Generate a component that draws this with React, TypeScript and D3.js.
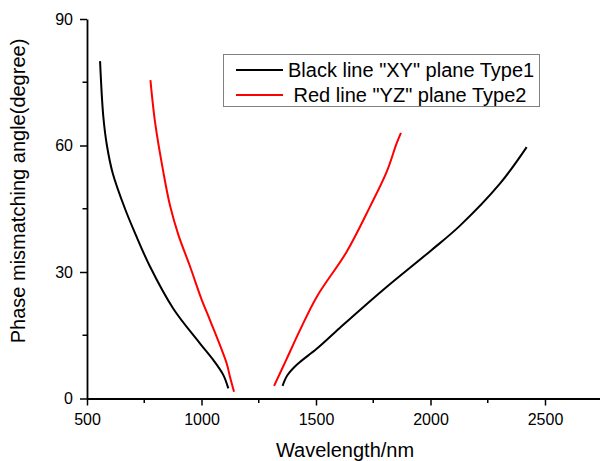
import React, { useEffect, useRef } from "react";
import * as d3 from "d3";

const width = 600;
const height = 461;

// wavelength (nm) and phase mismatching angle (degree)
const xyLeftWave = [557, 571, 587, 612, 666, 713, 775, 877, 993, 1052, 1095, 1117];
const xyLeftAngle = [80, 67, 60, 53.5, 45, 38.8, 31.3, 21.3, 13.1, 9.1, 5.6, 2.4];
const xyRightWave = [1354, 1375, 1416, 1503, 1605, 1794, 2000, 2129, 2304, 2420];
const xyRightAngle = [3, 5.5, 8, 11.8, 16.8, 25.8, 35, 41, 51, 59.6];

const yzLeftWave = [777, 797, 833, 862, 899, 950, 1001, 1037, 1110, 1124, 1142];
const yzLeftAngle = [75.5, 65.6, 53.8, 45.9, 38.8, 31.3, 23.4, 18.6, 8.3, 5.2, 1.6];
const yzRightWave = [1317, 1372, 1430, 1503, 1634, 1736, 1809, 1852, 1871];
const yzRightAngle = [3, 9.4, 16.2, 24.1, 34.8, 45.5, 53.8, 60.5, 63];

const xTicks = [500, 1000, 1500, 2000, 2500];
const xMinor = [750, 1250, 1750, 2250];
const yTicks = [0, 30, 60, 90];
const yMinor = [15, 45, 75];

const legendLabels = ['Black line "XY" plane Type1', ' Red line "YZ" plane Type2'];
const legendColors = ["#000000", "#ff0000"];

const font = "Arial, 'Liberation Sans', sans-serif";

const x = d3.scaleLinear().domain([500, 2750]).range([87, 602.25]);
const y = d3.scaleLinear().domain([0, 90]).range([398.5, 19]);

const toPoints = (w: number[], a: number[]) => w.map((v, i) => [v, a[i]] as [number, number]);

const line = d3
  .line<[number, number]>()
  .x(d => x(d[0]))
  .y(d => y(d[1]))
  .curve(d3.curveCatmullRom.alpha(0.5));

const series = [
  { pts: toPoints(xyLeftWave, xyLeftAngle), color: legendColors[0] },
  { pts: toPoints(xyRightWave, xyRightAngle), color: legendColors[0] },
  { pts: toPoints(yzLeftWave, yzLeftAngle), color: legendColors[1] },
  { pts: toPoints(yzRightWave, yzRightAngle), color: legendColors[1] }
];

export default function App() {
  const xAxisRef = useRef<SVGGElement>(null);
  const yAxisRef = useRef<SVGGElement>(null);

  useEffect(() => {
    const xg = d3.select(xAxisRef.current);
    xg.selectAll("*").remove();
    xg.call(
      d3.axisBottom(x).tickValues(xTicks).tickSize(7).tickSizeOuter(0).tickPadding(8).tickFormat(d3.format("d"))
    );
    xg.selectAll(".minor")
      .data(xMinor)
      .join("line")
      .attr("class", "minor")
      .attr("x1", d => x(d))
      .attr("x2", d => x(d))
      .attr("y1", 0)
      .attr("y2", 4.5)
      .attr("stroke", "#000")
      .attr("stroke-width", 1.5);

    const yg = d3.select(yAxisRef.current);
    yg.selectAll("*").remove();
    yg.call(d3.axisLeft(y).tickValues(yTicks).tickSize(7).tickSizeOuter(0).tickPadding(7));
    yg.selectAll(".minor")
      .data(yMinor)
      .join("line")
      .attr("class", "minor")
      .attr("y1", d => y(d))
      .attr("y2", d => y(d))
      .attr("x1", 0)
      .attr("x2", -4.5)
      .attr("stroke", "#000")
      .attr("stroke-width", 1.5);

    [xg, yg].forEach(g => {
      g.select(".domain").attr("stroke-width", 1.8);
      g.selectAll(".tick line").attr("stroke-width", 1.5);
      g.selectAll(".tick text").attr("font-size", 16).attr("font-family", font).attr("fill", "#000");
    });
  }, []);

  return (
    <svg width={width} height={height} style={{ position: "absolute", left: 0, top: 0, background: "#fff" }}>
      {series.map((s, i) => (
        <path key={i} d={line(s.pts) || ""} fill="none" stroke={s.color} strokeWidth={2} />
      ))}

      <g ref={xAxisRef} transform={`translate(0, ${y(0)})`} />
      <g ref={yAxisRef} transform={`translate(${x(500)}, 0)`} />

      <rect x={223.5} y={54.5} width={316} height={52} fill="#fff" stroke="#808080" strokeWidth={1} />
      {legendLabels.map((label, i) => (
        <g key={label}>
          <line x1={236} x2={283} y1={70 + i * 25} y2={70 + i * 25} stroke={legendColors[i]} strokeWidth={2} />
          <text x={288} y={77 + i * 25} fontSize={20} fontFamily={font} fill="#000" style={{ whiteSpace: "pre" }}>
            {label}
          </text>
        </g>
      ))}

      <text x={345} y={457} textAnchor="middle" fontSize={20} fontFamily={font} fill="#000">
        Wavelength/nm
      </text>
      <text
        transform={`translate(25, 191) rotate(-90)`}
        textAnchor="middle"
        fontSize={20}
        fontFamily={font}
        fill="#000"
      >
        Phase mismatching angle(degree)
      </text>
    </svg>
  );
}
